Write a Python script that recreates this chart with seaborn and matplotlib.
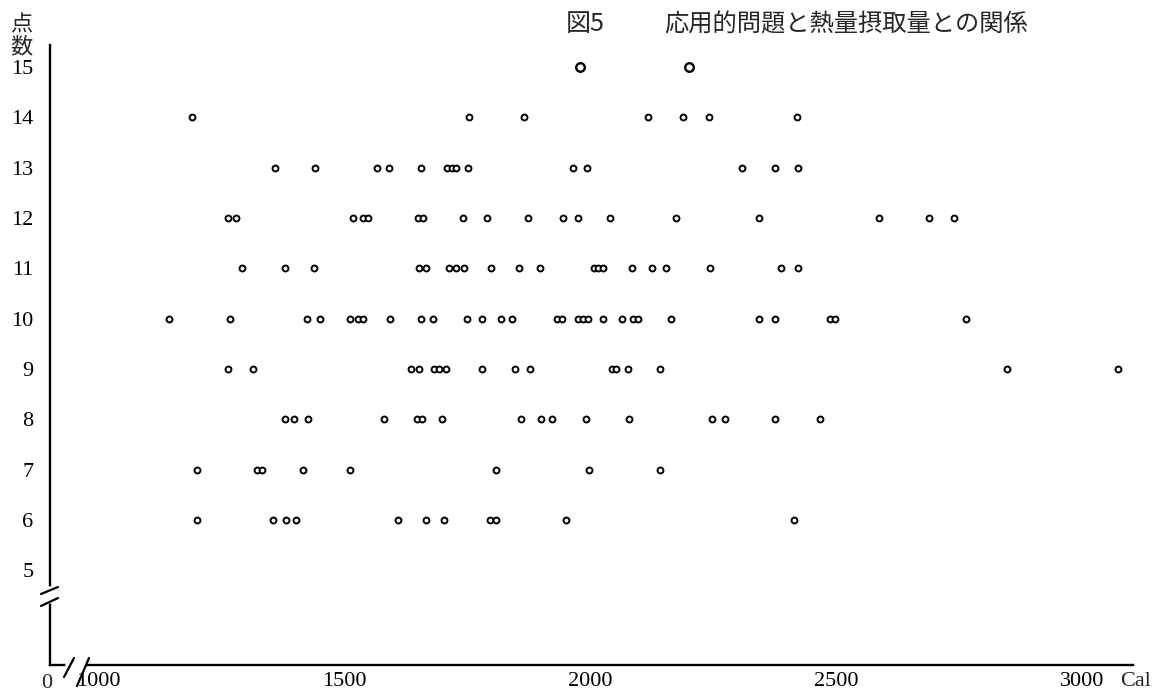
import numpy as np
import pandas as pd
import seaborn as sns
import matplotlib.pyplot as plt

# ---- data: calorie intake of each pupil, grouped by score (点数) ----
cal_15 = [1980, 2201]
cal_14 = [1190, 1754, 1866, 2118, 2189, 2242, 2421]
cal_13 = [1360, 1441, 1567, 1591, 1657, 1710, 1719, 1728, 1752, 1965, 1994, 2309, 2376, 2423]
cal_12 = [1264, 1280, 1518, 1538, 1548, 1650, 1661, 1742, 1791, 1874, 1945, 1976, 2041, 2175,
          2343, 2587, 2689, 2740]
cal_11 = [1293, 1380, 1439, 1652, 1667, 1713, 1728, 1744, 1799, 1856, 1898, 2008, 2016, 2026,
          2085, 2126, 2154, 2244, 2388, 2423]
cal_10 = [1144, 1268, 1425, 1451, 1512, 1528, 1539, 1593, 1657, 1681, 1750, 1780, 1819, 1841,
          1933, 1943, 1976, 1986, 1996, 2026, 2065, 2087, 2098, 2165, 2343, 2376, 2488, 2498, 2764]
cal_9 = [1264, 1315, 1636, 1652, 1683, 1693, 1707, 1780, 1848, 1878, 2045, 2053, 2077, 2142,
         2848, 3073]
cal_8 = [1380, 1398, 1427, 1581, 1648, 1659, 1699, 1860, 1900, 1923, 1992, 2079, 2248, 2274,
         2376, 2467]
cal_7 = [1201, 1323, 1333, 1417, 1512, 1809, 1998, 2142]
cal_6 = [1201, 1356, 1382, 1402, 1610, 1667, 1703, 1797, 1809, 1951, 2415]

scores = [15, 14, 13, 12, 11, 10, 9, 8, 7, 6]
groups = [cal_15, cal_14, cal_13, cal_12, cal_11, cal_10, cal_9, cal_8, cal_7, cal_6]
x_ticks = [1000, 1500, 2000, 2500, 3000]
y_ticks = [5, 6, 7, 8, 9, 10, 11, 12, 13, 14, 15]

title_fig = "図5"
title_text = "応用的問題と熱量摂取量との関係"
y_label = "点\n数"
x_unit = "Cal"

rows = []
for s, cals in zip(scores, groups):
    for c in cals:
        rows.append({"cal": c, "score": s})
df = pd.DataFrame(rows)

# ---- drawing ----
sns.set_theme(style="white")
plt.rcParams["font.family"] = ["Liberation Serif", "Noto Sans CJK JP"]

W, H = 1171, 697
fig = plt.figure(figsize=(W / 100, H / 100), dpi=100)

def fp(x, y):
    return (x / W, 1 - y / H)

ox, oy, rx, ty = 50, 665, 1133, 45
ax = fig.add_axes([ox / W, (H - oy) / H, (rx - ox) / W, (oy - ty) / H])

small = df[df["score"] < 15]
big = df[df["score"] == 15]
sns.scatterplot(data=small, x="cal", y="score", ax=ax, s=18, color="white",
                edgecolor="black", linewidth=1.4, legend=False, zorder=3)
sns.scatterplot(data=big, x="cal", y="score", ax=ax, s=38, color="white",
                edgecolor="black", linewidth=1.7, legend=False, zorder=3)

ax.set_xlim(902, 3104)
ax.set_ylim(3.12, 15.44)
ax.set_xticks(x_ticks)
ax.set_xticklabels([str(t) for t in x_ticks])
ax.set_yticks(y_ticks)
ax.set_yticklabels([str(t) for t in y_ticks])
ax.set_xlabel("")
ax.set_ylabel("")

for side in ["top", "right"]:
    ax.spines[side].set_visible(False)
for side in ["left", "bottom"]:
    ax.spines[side].set_color("black")
    ax.spines[side].set_linewidth(1.7)

ax.tick_params(axis="both", direction="in", length=6, width=1.6, colors="black",
               labelsize=16)
ax.tick_params(axis="x", pad=5)
ax.tick_params(axis="y", pad=12)

# axis break marks (y axis)
def afrac(px, py):
    return ((px - ox) / (rx - ox), (oy - py) / (oy - ty))

p1, p2 = afrac(50, 589), afrac(50, 601)
ax.plot([p1[0], p2[0]], [p1[1], p2[1]], transform=ax.transAxes, color="white",
        lw=4, clip_on=False, zorder=5)
for (a, b) in [((41, 594), (58, 587)), ((41, 606), (58, 598))]:
    p1, p2 = afrac(*a), afrac(*b)
    ax.plot([p1[0], p2[0]], [p1[1], p2[1]], transform=ax.transAxes, color="black",
            lw=1.6, clip_on=False, zorder=6)

# axis break marks (x axis)
p1, p2 = afrac(68, 665), afrac(84, 665)
ax.plot([p1[0], p2[0]], [p1[1], p2[1]], transform=ax.transAxes, color="white",
        lw=4, clip_on=False, zorder=5)
for (a, b) in [((64, 677), (74, 658)), ((77, 686), (89, 658))]:
    p1, p2 = afrac(*a), afrac(*b)
    ax.plot([p1[0], p2[0]], [p1[1], p2[1]], transform=ax.transAxes, color="black",
            lw=1.6, clip_on=False, zorder=6)

# texts
fig.text(*fp(47, 683), "0", ha="center", va="center", fontsize=16)
fig.text(*fp(1120, 682), x_unit, ha="left", va="center", fontsize=16)
fig.text(*fp(21, 36), y_label, ha="center", va="center", fontsize=16,
         family=["Noto Sans CJK JP"], linespacing=0.95)
fig.text(*fp(566, 24), title_fig, ha="left", va="center", fontsize=18,
         family=["Noto Sans CJK JP"])
fig.text(*fp(664, 24), title_text, ha="left", va="center", fontsize=17.5,
         family=["Noto Sans CJK JP"])

fig.savefig("out.png", dpi=100, facecolor="white")
